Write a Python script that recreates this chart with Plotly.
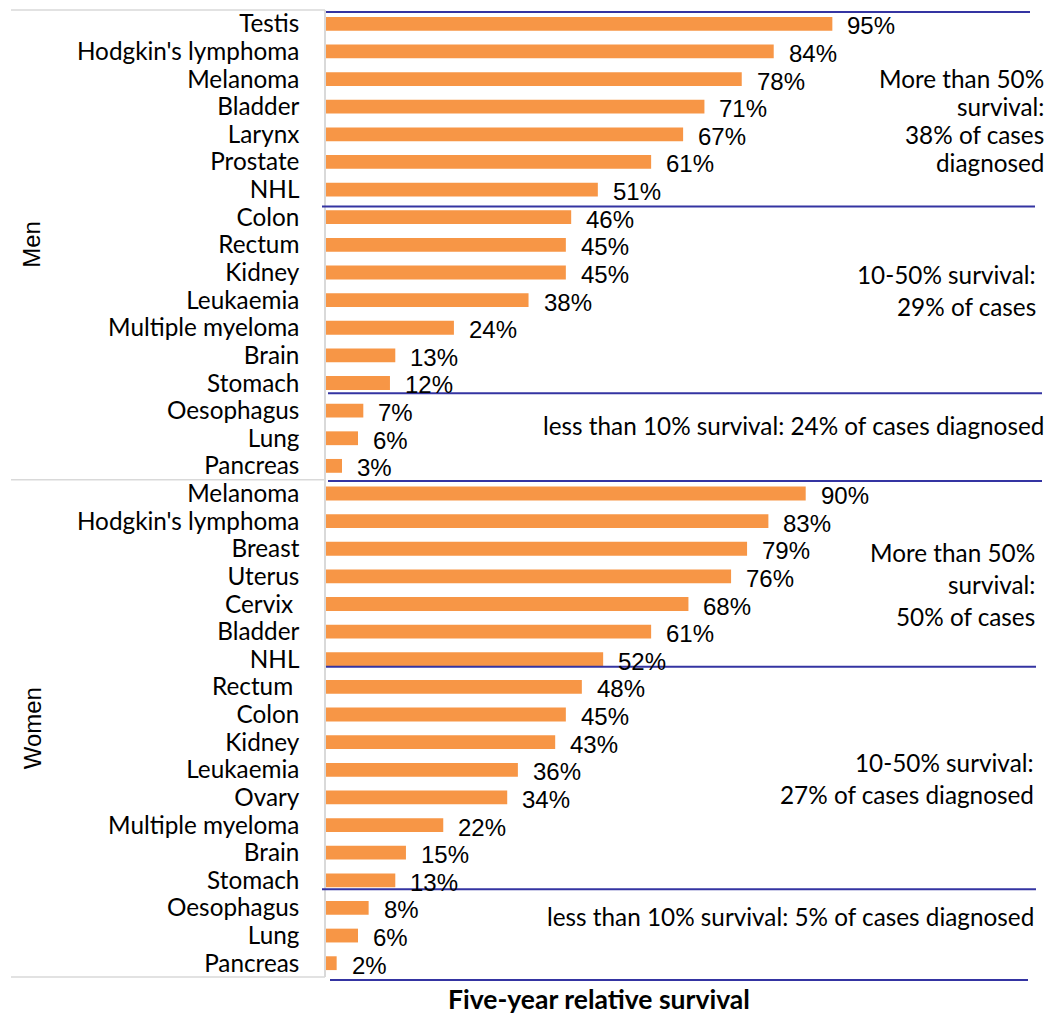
import plotly.graph_objects as go

# Five-year relative survival by cancer site
men_sites = ["Testis", "Hodgkin's lymphoma", "Melanoma", "Bladder", "Larynx", "Prostate",
             "NHL", "Colon", "Rectum", "Kidney", "Leukaemia", "Multiple myeloma", "Brain",
             "Stomach", "Oesophagus", "Lung", "Pancreas"]
men_survival = [95, 84, 78, 71, 67, 61, 51, 46, 45, 45, 38, 24, 13, 12, 7, 6, 3]

women_sites = ["Melanoma", "Hodgkin's lymphoma", "Breast", "Uterus", "Cervix ", "Bladder",
               "NHL", "Rectum ", "Colon", "Kidney", "Leukaemia", "Ovary", "Multiple myeloma",
               "Brain", "Stomach", "Oesophagus", "Lung", "Pancreas"]
women_survival = [90, 83, 79, 76, 68, 61, 52, 48, 45, 43, 36, 34, 22, 15, 13, 8, 6, 2]

groups = ["Men", "Women"]

men_notes = [["More than 50%", "survival:", "38% of cases", "diagnosed"],
             ["10-50% survival:", "29% of cases"],
             ["less than 10% survival: 24% of cases diagnosed"]]
women_notes = [["More than 50%", "survival:", "50% of cases"],
               ["10-50% survival:", "27% of cases diagnosed"],
               ["less than 10% survival: 5% of cases diagnosed"]]

axis_title = "Five-year relative survival"

labels = men_sites + women_sites
values = men_survival + women_survival
rows = list(range(len(labels)))
n = len(labels)

W, H = 1052, 1014
L, R, T, B = 326, 180, 8, 37
PW, PH = W - L - R, H - T - B
X_MAX = PW / 5.33

BAR = "#F79646"
NAVY = "#3434A2"
GRID = "#D9D9D9"
CAT_FONT = "Lato, Carlito, sans-serif"
NUM_FONT = "Liberation Sans, Arial, sans-serif"


def px_x(px):
    return (px - L) / PW


def px_y(py):
    return (H - B - py) / PH


def row_y(r):
    # pixel y of a (possibly fractional) row position
    return T + (r + 0.5) * PH / n


fig = go.Figure()
fig.add_trace(go.Bar(
    y=rows, x=values, orientation="h",
    marker=dict(color=BAR, line=dict(width=0)),
    width=0.5, hoverinfo="skip",
))

annotations = []
# value labels
for r, v in zip(rows, values):
    annotations.append(dict(x=v, y=r, xref="x", yref="y", text=f"{v}%",
                            showarrow=False, xanchor="left", xshift=13, yshift=-2,
                            font=dict(family=NUM_FONT, size=24, color="#000")))

# group labels on the left
men_mid = (len(men_sites) - 1) / 2
women_mid = len(men_sites) + (len(women_sites) - 1) / 2
for g, mid in zip(groups, [men_mid, women_mid]):
    annotations.append(dict(x=px_x(32), y=px_y(row_y(mid)), xref="paper", yref="paper",
                            text=g, textangle=-90, showarrow=False,
                            xanchor="center", yanchor="middle",
                            font=dict(family=NUM_FONT, size=24, color="#000")))

# band notes on the right
note_layout = [
    (men_notes[0], 1046, [77, 105, 133, 161]),
    (men_notes[1], 1038, [273, 305]),
    (men_notes[2], 1046, [424]),
    (women_notes[0], 1037, [552, 584, 616]),
    (women_notes[1], 1036, [762, 794]),
    (women_notes[2], 1036, [916]),
]
for lines, right, ys in note_layout:
    for txt, yy in zip(lines, ys):
        annotations.append(dict(x=px_x(right), y=px_y(yy), xref="paper", yref="paper",
                                text=txt, showarrow=False, xanchor="right", yanchor="middle",
                                font=dict(family=CAT_FONT, size=24.3, color="#000")))

annotations.append(dict(x=px_x(599), y=px_y(999), xref="paper", yref="paper",
                        text=f"<b>{axis_title}</b>", showarrow=False,
                        xanchor="center", yanchor="middle",
                        font=dict(family=CAT_FONT, size=26.5, color="#000")))

shapes = []
# survival band separators (row positions, left px, right px)
bands = [(-0.43, 326, 1030), (6.61, 322, 1035), (13.37, 328, 1042), (16.55, 328, 1042),
         (23.27, 326, 1036), (31.32, 322, 1036), (34.61, 330, 1028)]
for r, x0, x1 in bands:
    yy = px_y(row_y(r))
    shapes.append(dict(type="line", xref="paper", yref="paper", x0=px_x(x0), x1=px_x(x1),
                       y0=yy, y1=yy, line=dict(color=NAVY, width=2)))

# category group dividers
for r in [-0.5, len(men_sites) - 0.5, n - 0.5]:
    yy = px_y(row_y(r))
    shapes.append(dict(type="line", xref="paper", yref="paper", x0=px_x(11), x1=px_x(325),
                       y0=yy, y1=yy, line=dict(color=GRID, width=1.5)))

fig.update_layout(
    width=W, height=H,
    margin=dict(l=L, r=R, t=T, b=B),
    paper_bgcolor="white", plot_bgcolor="white",
    showlegend=False, bargap=0.5,
    annotations=annotations, shapes=shapes,
    xaxis=dict(range=[0, X_MAX], showgrid=False, zeroline=False, showticklabels=False,
               showline=False, ticks=""),
    yaxis=dict(range=[n - 0.5, -0.5], tickmode="array", tickvals=rows, ticktext=labels,
               showgrid=False, zeroline=False, showline=True, linecolor=GRID, linewidth=1.5,
               ticks="outside", ticklen=20, tickcolor="rgba(0,0,0,0)",
               tickfont=dict(family=CAT_FONT, size=24.3, color="#000")),
)

fig.write_html("out.html")
